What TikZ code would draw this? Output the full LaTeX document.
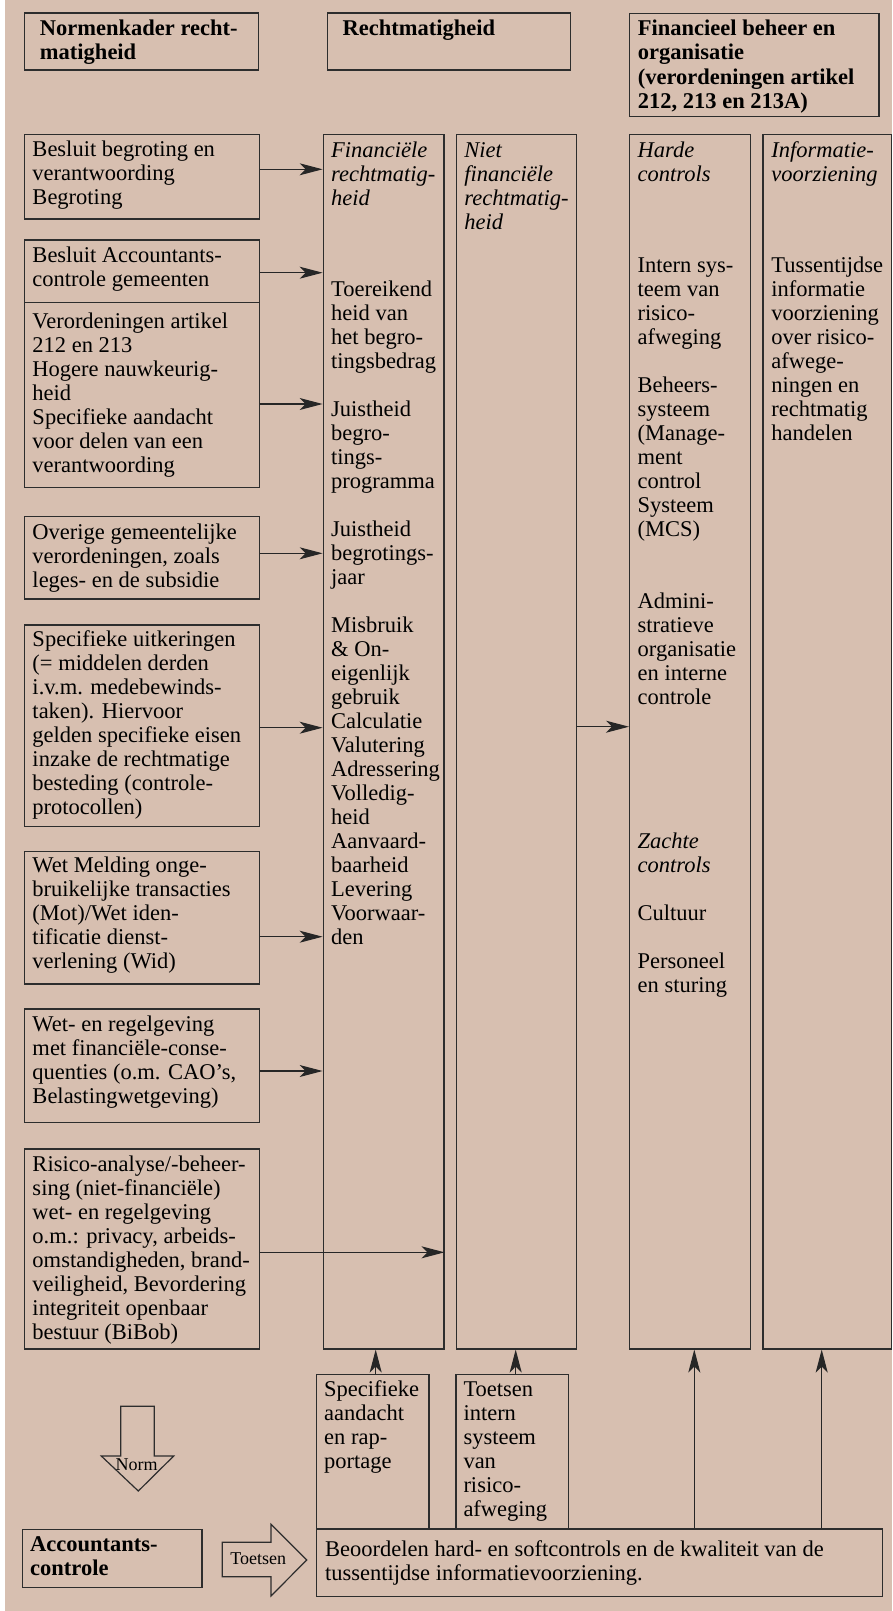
\documentclass[tikz,border=0pt]{standalone}
\usepackage{fontspec}
\setmainfont{Liberation Serif}
\usetikzlibrary{arrows.meta}
\definecolor{bgc}{RGB}{215,191,176}
\definecolor{lnc}{RGB}{45,45,45}
\newcommand{\lns}[1]{\begin{tabular}[t]{@{}l@{}}#1\end{tabular}}
\newcommand{\mainsz}{\fontsize{22.5bp}{24bp}\selectfont}
\newcommand{\smallsz}{\fontsize{18bp}{20bp}\selectfont}
\newcommand{\mybox}[5]{\node[box, minimum width={#4bp-#2bp}, minimum height={#5bp-#3bp}] (#1) at (#2,#3) {};}
\tikzset{
  box/.style={draw=lnc, line width=1.2bp, inner sep=0pt, anchor=north west},
  txt/.style={inner sep=0pt, anchor=base west, font=\mainsz, text=black},
  htxt/.style={txt, font=\mainsz\bfseries},
  itxt/.style={txt, font=\mainsz\itshape},
  arr/.style={draw=black!85, line width=1.1bp, -{Stealth[length=23bp,width=12bp,inset=6bp]}},
  blk/.style={draw=lnc, line width=1.2bp, line join=miter},
  lbl/.style={inner sep=0pt, anchor=base, font=\smallsz, text=black}
}
\begin{document}
\begin{tikzpicture}[x=1bp,y=-1bp]
\useasboundingbox (0,0) rectangle (892,1611);
\fill[bgc] (5,0) rectangle (892,1610.7);

% header boxes
\mybox{hb1}{24}{12.5}{258}{69.3}
\mybox{hb2}{327}{12.5}{570}{69.3}
\mybox{hb3}{629}{12.7}{878.3}{115.7}
\node[htxt] (hb1t) at (39.8,36) {\lns{Normenkader recht-\\matigheid}};
\node[htxt] (hb2t) at (342.4,36) {\lns{Rechtmatigheid}};
\node[htxt] (hb3t) at (637.7,36) {\lns{Financieel beheer en\\organisatie\\(verordeningen artikel\\212, 213 en 213A)}};

% columns
\mybox{cfin}{322.6}{133.5}{443.3}{1348.3}
\mybox{cniet}{455.5}{133.5}{575.7}{1348.3}
\mybox{charde}{629}{133.5}{749.7}{1348.3}
\mybox{cinfo}{762.3}{133.5}{890.7}{1348.3}

\node[itxt] (finh) at (331,157.3) {\lns{Financiële\\rechtmatig-\\heid}};
\node[txt] (finb) at (331,296) {\lns{Toereikend\\heid van\\het begro-\\tingsbedrag\\ \\Juistheid\\begro-\\tings-\\programma\\ \\Juistheid\\begrotings-\\jaar\\ \\Misbruik\\\& On-\\eigenlijk\\gebruik\\Calculatie\\Valutering\\Adressering\\Volledig-\\heid\\Aanvaard-\\baarheid\\Levering\\Voorwaar-\\den}};
\node[itxt] (nieth) at (464.2,157.3) {\lns{Niet\\financiële\\rechtmatig-\\heid}};
\node[itxt] (hardh) at (637.5,157.3) {\lns{Harde\\controls}};
\node[txt] (hardb) at (637.5,272.7) {\lns{Intern sys-\\teem van\\risico-\\afweging\\ \\Beheers-\\systeem\\(Manage-\\ment\\control\\Systeem\\(MCS)\\ \\ \\Admini-\\stratieve\\organisatie\\en interne\\controle}};
\node[itxt] (zachth) at (637.5,848.7) {\lns{Zachte\\controls}};
\node[txt] (zachtb) at (637.5,920.7) {\lns{Cultuur\\ \\Personeel\\en sturing}};
\node[itxt] (infoh) at (771.1,157.3) {\lns{Informatie-\\voorziening}};
\node[txt] (infob) at (771.1,272.7) {\lns{Tussentijdse\\informatie\\voorziening\\over risico-\\afwege-\\ningen en\\rechtmatig\\handelen}};

% left boxes
\mybox{lb1}{24}{134}{258.5}{218.3}
\mybox{lb2a}{24}{239.3}{258.5}{301.7}
\mybox{lb2b}{24}{301.7}{258.5}{486.7}
\mybox{lb3}{24}{515.7}{258.5}{598.3}
\mybox{lb4}{24}{624.3}{258.5}{826}
\mybox{lb5}{24}{850.7}{258.5}{983.3}
\mybox{lb6}{24}{1008.3}{258.5}{1121.7}
\mybox{lb7}{24}{1148.3}{258.5}{1348.3}
\node[txt] (lb1t) at (32.3,156.7) {\lns{Besluit begroting en\\verantwoording\\Begroting}};
\node[txt] (lb2at) at (32.3,262.7) {\lns{Besluit Accountants-\\controle gemeenten}};
\node[txt] (lb2bt) at (32.3,328.3) {\lns{Verordeningen artikel\\212 en 213\\Hogere nauwkeurig-\\heid\\Specifieke aandacht\\voor delen van een\\verantwoording}};
\node[txt] (lb3t) at (32.3,539) {\lns{Overige gemeentelijke\\verordeningen, zoals\\leges- en de subsidie}};
\node[txt] (lb4t) at (32.3,646.7) {\lns{Specifieke uitkeringen\\(= middelen derden\\i.v.m. medebewinds-\\taken). Hiervoor\\gelden specifieke eisen\\inzake de rechtmatige\\besteding (controle-\\protocollen)}};
\node[txt] (lb5t) at (32.3,872.7) {\lns{Wet Melding onge-\\bruikelijke transacties\\(Mot)/Wet iden-\\tificatie dienst-\\verlening (Wid)}};
\node[txt] (lb6t) at (32.3,1031.7) {\lns{Wet- en regelgeving\\met financiële-conse-\\quenties (o.m. CAO’s,\\Belastingwetgeving)}};
\node[txt] (lb7t) at (32.3,1171.7) {\lns{Risico-analyse/-beheer-\\sing (niet-financiële)\\wet- en regelgeving\\o.m.: privacy, arbeids-\\omstandigheden, brand-\\veiligheid, Bevordering\\integriteit openbaar\\bestuur (BiBob)}};

% bottom boxes
\mybox{bspec}{315.7}{1374}{428.3}{1528.3}
\mybox{btoets}{455.3}{1374}{568}{1528.3}
\mybox{bbig}{316.2}{1528.3}{881.7}{1596}
\mybox{acc}{21.7}{1528.7}{201.3}{1586.7}
\node[txt] (bspect) at (324,1396.7) {\lns{Specifieke\\aandacht\\en rap-\\portage}};
\node[txt] (btoetst) at (463.3,1396.7) {\lns{Toetsen\\intern\\systeem\\van\\risico-\\afweging}};
\node[txt] (bbigt) at (325,1556.7) {\lns{Beoordelen hard- en softcontrols en de kwaliteit van de\\tussentijdse informatievoorziening.}};
\node[htxt] (acct) at (30,1551.7) {\lns{Accountants-\\controle}};

% block arrows
\draw[blk] (120.7,1406.3) -- (154.3,1406.3) -- (154.3,1456) -- (173.7,1456) -- (138.3,1491) -- (101.3,1456) -- (120.7,1456) -- cycle;
\node[lbl] (norm) at (136.7,1470.7) {Norm};
\draw[blk] (222.3,1542.3) -- (271,1542.3) -- (271,1524.3) -- (306.7,1560) -- (271,1596) -- (271,1576.7) -- (222.3,1576.7) -- cycle;
\node[lbl] (toetsen) at (258.3,1564.3) {Toetsen};

% horizontal arrows
\draw[arr] (lb1.east |- 0,169.3) -- (cfin.west |- 0,169.3);
\draw[arr] (lb2a.east |- 0,272.7) -- (cfin.west |- 0,272.7);
\draw[arr] (lb2b.east |- 0,404) -- (cfin.west |- 0,404);
\draw[arr] (lb3.east |- 0,553.3) -- (cfin.west |- 0,553.3);
\draw[arr] (lb4.east |- 0,727.7) -- (cfin.west |- 0,727.7);
\draw[arr] (lb5.east |- 0,936.7) -- (cfin.west |- 0,936.7);
\draw[arr] (lb6.east |- 0,1071) -- (cfin.west |- 0,1071);
\draw[arr] (lb7.east |- 0,1252.3) -- (cfin.east |- 0,1252.3);
\draw[arr] (cniet.east |- 0,726.7) -- (charde.west |- 0,726.7);

% vertical arrows
\draw[arr] (375.7,0 |- bspec.north) -- (375.7,0 |- cfin.south);
\draw[arr] (515.7,0 |- btoets.north) -- (515.7,0 |- cniet.south);
\draw[arr] (694.3,0 |- bbig.north) -- (694.3,0 |- charde.south);
\draw[arr] (821.7,0 |- bbig.north) -- (821.7,0 |- cinfo.south);
\end{tikzpicture}
\end{document}
